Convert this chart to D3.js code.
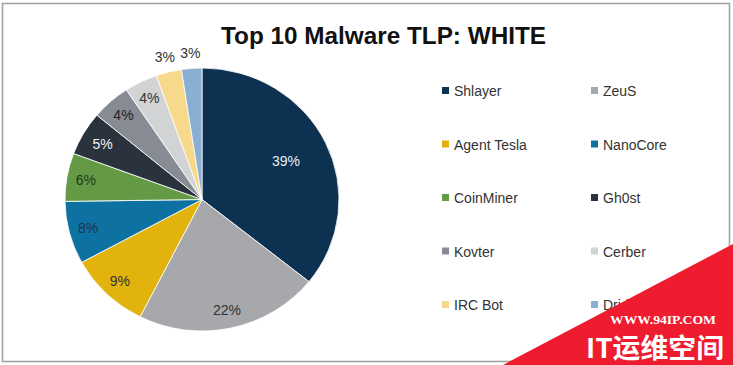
<!DOCTYPE html>
<html><head><meta charset="utf-8">
<script src="https://cdn.jsdelivr.net/npm/d3@7/dist/d3.min.js"></script>
<style>html,body{margin:0;padding:0;background:#fff;}svg{display:block;}</style>
</head><body>
<script>
const names = ["Shlayer","ZeuS","Agent Tesla","NanoCore","CoinMiner","Gh0st","Kovter","Cerber","IRC Bot","Dridex"];
const shares = [35.7,21.7,9.6,7.7,5.9,5.4,4.6,3.9,3.0,2.4];
const pctLabels = ["39%","22%","9%","8%","6%","5%","4%","4%","3%","3%"];
const colors = ["#0c3151","#a7a8ab","#e1b30c","#0d71a2","#649945","#2a323d","#878b94","#d1d3d4","#f7d98b","#89b0d2"];
const labelColors = ["#e8eef4","#333","#333","#1d3550","#1f3a12","#f2f2f2","#222","#333","#333","#333"];

const W = 733, H = 365;
const svg = d3.select("body").append("svg").attr("width", W).attr("height", H);
svg.append("rect").attr("x",2.5).attr("y",3.5).attr("width",727).attr("height",358)
  .attr("fill","#fff").attr("stroke","#a3a3a3").attr("stroke-width",1.6);

svg.append("text").attr("x",221).attr("y",44)
  .attr("font-family","Liberation Sans, Arial, sans-serif").attr("font-weight","bold")
  .attr("font-size",23).attr("fill","#111")
  .attr("textLength",325).attr("lengthAdjust","spacingAndGlyphs")
  .text("Top 10 Malware TLP: WHITE");

const cx = 202, cy = 199.5, r = 131.5, sx = 1.042;
const pie = d3.pie().sort(null).value(d => d)(shares);
const arc = d3.arc().innerRadius(0).outerRadius(r);
const g = svg.append("g").attr("transform", `translate(${cx},${cy}) scale(${sx},1)`);
g.selectAll("path").data(pie).join("path")
  .attr("d", arc).attr("fill", (d,i) => colors[i])
  .attr("stroke","#fff").attr("stroke-width",0.8);

// label radii (fraction of r); last two placed outside
const labelR = [0.68,0.86,0.86,0.86,0.86,0.84,0.86,0.86,1.12,1.12];
const lab = svg.append("g").attr("transform", `translate(${cx},${cy})`);
lab.selectAll("text").data(pie).join("text")
  .attr("x", (d,i) => { const a=(d.startAngle+d.endAngle)/2; return Math.sin(a)*r*labelR[i]*sx; })
  .attr("y", (d,i) => { const a=(d.startAngle+d.endAngle)/2; return -Math.cos(a)*r*labelR[i]+5; })
  .attr("text-anchor","middle")
  .attr("font-family","Liberation Sans, Arial, sans-serif").attr("font-size",14)
  .attr("fill",(d,i)=>labelColors[i]).text((d,i)=>pctLabels[i]);

const leg = svg.append("g");
const colX = [442, 591], rowY0 = 91, rowDy = 53.5;
names.forEach((n,i) => {
  const x = colX[i%2], y = rowY0 + Math.floor(i/2)*rowDy;
  leg.append("rect").attr("x",x).attr("y",y-4).attr("width",7).attr("height",7).attr("fill",colors[i]);
  leg.append("text").attr("x",x+12).attr("y",y+5).attr("font-family","Liberation Sans, Arial, sans-serif")
    .attr("font-size",14).attr("fill","#333").text(n);
});

// watermark overlay
const wm = svg.append("g");
wm.append("path").attr("d","M503,365 L733,244 L733,365 Z").attr("fill","#ee1c2e");
wm.append("text").attr("x",610).attr("y",324)
  .attr("font-family","Liberation Serif, DejaVu Serif, serif").attr("font-weight","bold")
  .attr("font-size",13).attr("fill","#fff")
  .attr("textLength",106).attr("lengthAdjust","spacingAndGlyphs").text("WWW.94IP.COM");
wm.append("text").attr("x",586).attr("y",358)
  .attr("font-family","Noto Sans CJK SC, sans-serif").attr("font-weight","bold")
  .attr("font-size",27).attr("fill","#fff")
  .attr("textLength",138).attr("lengthAdjust","spacingAndGlyphs").text("IT运维空间");
</script>
</body></html>
